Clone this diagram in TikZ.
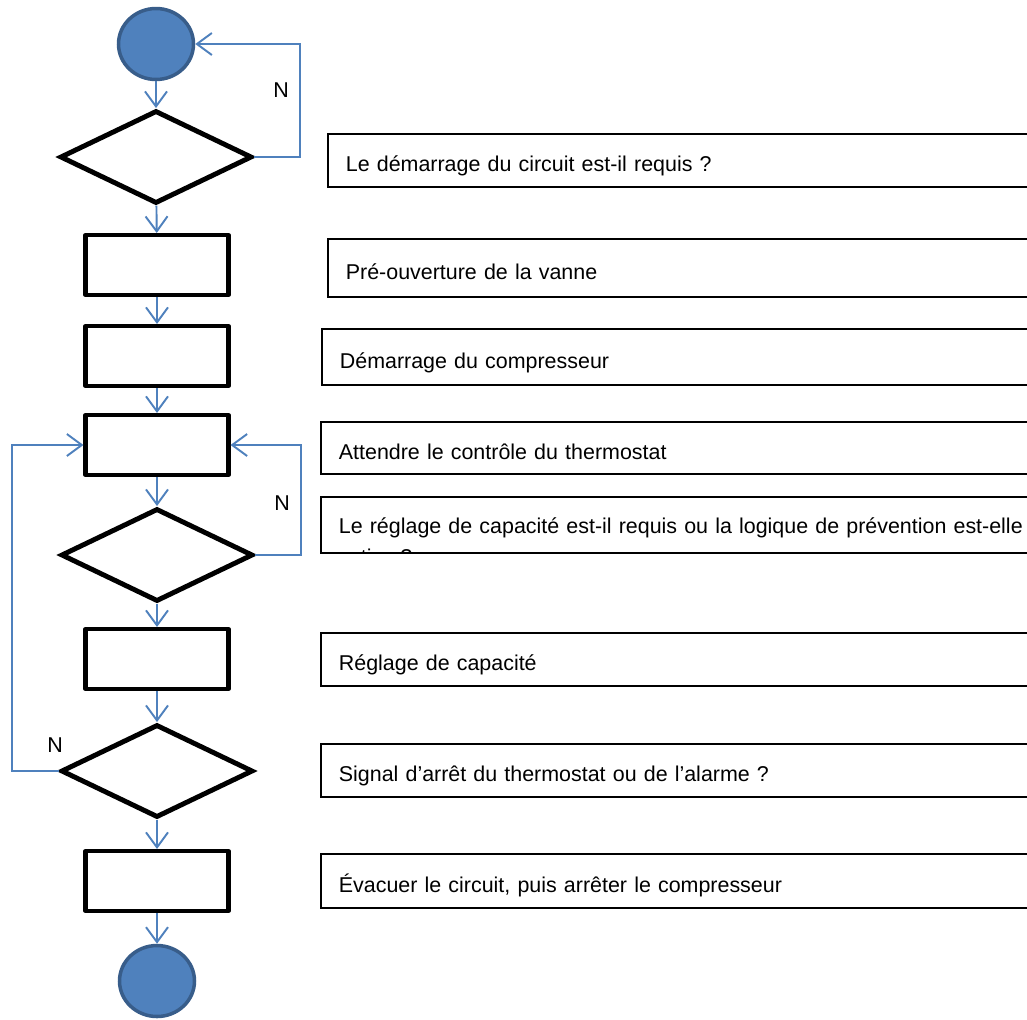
\documentclass[tikz,border=0pt]{standalone}
\usepackage{fontspec}
\setmainfont{Liberation Sans}
\usetikzlibrary{shapes.geometric,arrows.meta}
\definecolor{flowblue}{HTML}{4F81BD}
\definecolor{flowedge}{HTML}{385D8A}
\begin{document}
\begin{tikzpicture}%
	[x=0.02cm, y=-0.02cm,
	flow/.style={color=flowblue, line width=1.1pt, -{Straight Barb[length=0.3cm,width=0.44cm]}},
	terminal/.style={ellipse, fill=flowblue, draw=flowedge, line width=2pt, minimum width=1.5cm, minimum height=1.42cm, inner sep=0pt},
	decision/.style={diamond, draw=black, line width=2.8pt, minimum width=3.84cm, minimum height=1.86cm, inner sep=0pt},
	process/.style={rectangle, draw=black, line width=2.3pt, line join=round, minimum width=2.86cm, minimum height=1.2cm, inner sep=0pt},
	note/.style={rectangle, draw=black, line width=1pt, anchor=north west, minimum width=16cm, text width=15.28cm, inner xsep=0.36cm, inner ysep=0pt, align=left, text height=15pt, text depth=2pt, font=\fontsize{12.2}{14.6}\selectfont},
	letter/.style={font=\fontsize{12.2}{14.6}\selectfont}]
%%
%% Frame
%%
\useasboundingbox (0,0) rectangle (1027,1019);
\clip (0,0) rectangle (1027,1019);
%%
%% The chart
%%
\node[terminal] (start) at (156,44) {};
\node[decision] (d1) at (156,157) {};
\node[process] (r1) at (157,265) {};
\node[process] (r2) at (157,356) {};
\node[process] (r3) at (157,445) {};
\node[decision] (d2) at (157,555) {};
\node[process] (r4) at (157,659) {};
\node[decision] (d3) at (157,771) {};
\node[process] (r5) at (157,881) {};
\node[terminal] (stop) at (157,981) {};
%%
%% The notes
%%
\node[note, minimum height=1.06cm] (t1) at (327,133) {Le démarrage du circuit est-il requis ?};
\node[note, minimum height=1.16cm] (t2) at (327,238) {Pré-ouverture de la vanne};
\node[note, minimum height=1.12cm] (t3) at (321,328) {Démarrage du compresseur};
\node[note, minimum height=1.04cm] (t4) at (320,421) {Attendre le contrôle du thermostat};
\node[note, minimum height=1.12cm, text height=12pt] (t5) at (320,496) {Le réglage de capacité est-il requis ou la logique de prévention est-elle};
\node[note, minimum height=1.06cm] (t6) at (320,632) {Réglage de capacité};
\node[note, minimum height=1.06cm] (t7) at (320,743) {Signal d’arrêt du thermostat ou de l’alarme ?};
\node[note, minimum height=1.08cm] (t8) at (320,853) {Évacuer le circuit, puis arrêter le compresseur};
\begin{scope}
\clip (t5.north west) rectangle (t5.south east);
\path (t5.base west) ++(18,31) node[letter, anchor=base west, inner sep=0pt] (t5b) {active ?};
\end{scope}
%%
%% Connectors
%%
\draw[flow] (start) -- (d1);
\draw[flow] (d1) -- (r1);
\draw[flow] (r1) -- (r2);
\draw[flow] (r2) -- (r3);
\draw[flow] (r3) -- (d2);
\draw[flow] (d2) -- (r4);
\draw[flow] (r4) -- (d3);
\draw[flow] (d3) -- (r5);
\draw[flow] (r5) -- (stop);
\draw[flow] (d1.east) -- ++(46,0) |- (start.east);
\draw[flow] (d2.east) -- ++(46,0) |- (r3.east);
\draw[flow] (d3.west) -- ++(-47,0) |- (r3.west);
\node[letter] (n1) at (281,90) {N};
\node[letter] (n2) at (282,503) {N};
\node[letter] (n3) at (55,745) {N};
%%
\end{tikzpicture}
\end{document}
